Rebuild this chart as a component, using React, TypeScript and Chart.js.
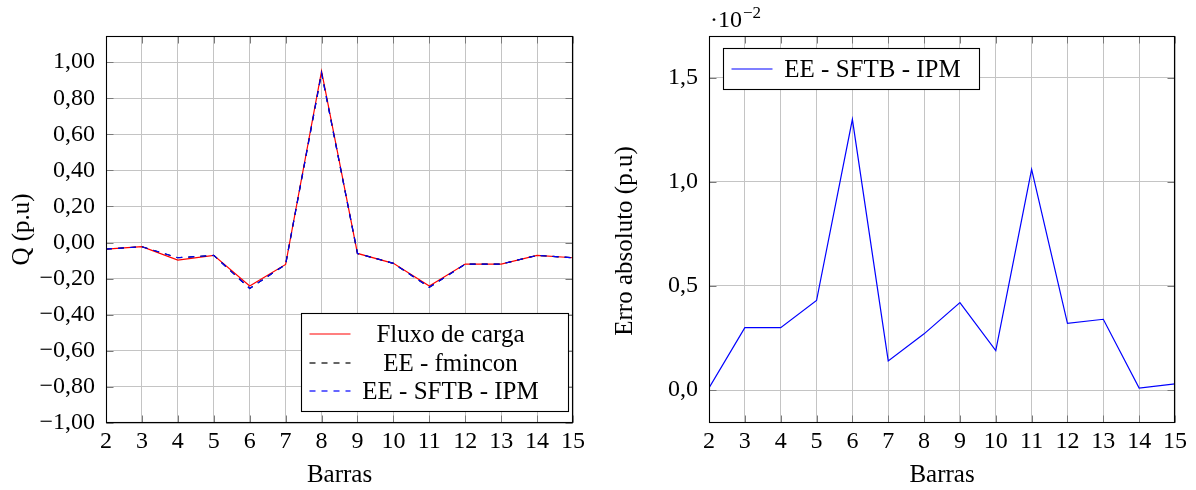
import React, { useEffect, useRef } from 'react';
import { Chart, registerables } from 'chart.js';

Chart.register(...registerables);

const FONT = "'Liberation Serif', 'DejaVu Serif', serif";

// ---------- data ----------
const barras = [2, 3, 4, 5, 6, 7, 8, 9, 10, 11, 12, 13, 14, 15];
const qFluxoCarga = [-0.036, -0.023, -0.097, -0.071, -0.241, -0.121, 0.95, -0.06, -0.115, -0.241, -0.119, -0.119, -0.071, -0.084];
const qFmincon = [-0.036, -0.023, -0.084, -0.071, -0.254, -0.121, 0.94, -0.06, -0.115, -0.248, -0.119, -0.119, -0.071, -0.084];
const qSftbIpm = [-0.036, -0.023, -0.084, -0.071, -0.254, -0.121, 0.94, -0.06, -0.115, -0.248, -0.119, -0.119, -0.071, -0.084];
// absolute error, in units of 10^-2
const erroSftbIpm = [0.01, 0.30, 0.30, 0.43, 1.30, 0.14, 0.27, 0.42, 0.19, 1.06, 0.32, 0.34, 0.01, 0.03];

const qTicks = [-1, -0.8, -0.6, -0.4, -0.2, 0, 0.2, 0.4, 0.6, 0.8, 1.0];
const erroTicks = [0, 0.5, 1.0, 1.5];
const xTicks = barras;

const leftLabels = ['Fluxo de carga', 'EE - fmincon', 'EE - SFTB - IPM'];
const rightLabels = ['EE - SFTB - IPM'];

// ---------- helpers ----------
const fmtDec = (v: number, d: number) => {
  const s = Math.abs(v) < 1e-9 ? (0).toFixed(d) : v.toFixed(d);
  return s.replace('.', ',').replace('-', '\u2212');
};

const pts = (ys: number[]) => barras.map((x, i) => ({ x, y: ys[i] }));

const DASH = [6, 6];
const LW = 1.2;

const framePlugin = {
  id: 'pgfFrame',
  afterDatasetsDraw(chart: any) {
    const { ctx, chartArea: ca, scales } = chart;
    const L = Math.round(ca.left) + 0.5;
    const R = Math.round(ca.right) - 0.5;
    const T = Math.round(ca.top) + 0.5;
    const B = Math.round(ca.bottom) - 0.5;
    ctx.save();
    ctx.strokeStyle = '#7a7a7a';
    ctx.lineWidth = 1;
    const len = 7;
    ctx.beginPath();
    scales.x.ticks.forEach((t: any) => {
      const px = Math.round(scales.x.getPixelForValue(t.value)) + 0.5;
      ctx.moveTo(px, B); ctx.lineTo(px, B - len);
      ctx.moveTo(px, T); ctx.lineTo(px, T + len);
    });
    scales.y.ticks.forEach((t: any) => {
      const py = Math.round(scales.y.getPixelForValue(t.value)) + 0.5;
      ctx.moveTo(L, py); ctx.lineTo(L + len, py);
      ctx.moveTo(R, py); ctx.lineTo(R - len, py);
    });
    ctx.stroke();
    ctx.strokeStyle = '#000';
    ctx.lineWidth = 1.1;
    ctx.strokeRect(L, T, R - L, B - T);
    ctx.restore();
  },
};

const makeLegend = (o: { anchor: 'br' | 'tl'; dx: number; dy: number; minCol: number; padR: number }) => ({
  id: 'pgfLegend',
  afterDraw(chart: any) {
    const { ctx, chartArea: ca } = chart;
    const items = chart.data.datasets;
    ctx.save();
    ctx.font = `25px ${FONT}`;
    const maxW = Math.max(o.minCol, ...items.map((d: any) => ctx.measureText(d.label).width));
    const padL = 8, sample = 41, gap = 5, rowH = 28.5, padV = 20.5;
    const w = padL + sample + gap + maxW + o.padR;
    const h = padV * 2 + (items.length - 1) * rowH;
    let x0: number, y0: number;
    if (o.anchor === 'br') {
      x0 = ca.right - o.dx - w;
      y0 = ca.bottom - o.dy - h;
    } else {
      x0 = ca.left + o.dx;
      y0 = ca.top + o.dy;
    }
    x0 = Math.round(x0) + 0.5;
    y0 = Math.round(y0) + 0.5;
    ctx.fillStyle = '#fff';
    ctx.fillRect(x0, y0, w, h);
    ctx.strokeStyle = '#000';
    ctx.lineWidth = 1.1;
    ctx.strokeRect(x0, y0, Math.round(w), Math.round(h));
    items.forEach((d: any, i: number) => {
      const y = Math.round(y0 + padV + i * rowH);
      ctx.save();
      ctx.strokeStyle = d.borderColor;
      ctx.lineWidth = d.borderWidth;
      ctx.setLineDash(d.borderDash || []);
      ctx.beginPath();
      ctx.moveTo(x0 + padL, y);
      ctx.lineTo(x0 + padL + sample, y);
      ctx.stroke();
      ctx.restore();
      ctx.fillStyle = '#000';
      ctx.textAlign = 'center';
      ctx.textBaseline = 'middle';
      ctx.fillText(d.label, x0 + padL + sample + gap + maxW / 2, y + 1);
    });
    ctx.restore();
  },
});

const exponentPlugin = {
  id: 'pgfExponent',
  afterDraw(chart: any) {
    const { ctx, chartArea: ca } = chart;
    ctx.save();
    ctx.fillStyle = '#000';
    ctx.textAlign = 'left';
    ctx.textBaseline = 'alphabetic';
    ctx.font = `24px ${FONT}`;
    const base = '\u00b710';
    const x = ca.left + 1;
    const y = 27;
    ctx.fillText(base, x, y);
    const w = ctx.measureText(base).width;
    ctx.font = `17px ${FONT}`;
    ctx.fillText('\u22122', x + w + 1, y - 9);
    ctx.restore();
  },
};

const yTitlePlugin = (text: string, cx: number, cy: number) => ({
  id: 'pgfYTitle',
  afterDraw(chart: any) {
    const { ctx } = chart;
    ctx.save();
    ctx.translate(cx, cy);
    ctx.rotate(-Math.PI / 2);
    ctx.fillStyle = '#000';
    ctx.font = `25px ${FONT}`;
    ctx.textAlign = 'center';
    ctx.textBaseline = 'middle';
    ctx.fillText(text, 0, 0);
    ctx.restore();
  },
});

const GRID = '#c4c4c4';

function baseScales(yMin: number, yMax: number, yTickVals: number[], yDec: number, yWidth: number, yTitle: string | null, yTitlePad: number) {
  return {
    x: {
      type: 'linear',
      min: barras[0],
      max: barras[barras.length - 1],
      afterBuildTicks: (s: any) => { s.ticks = xTicks.map((v) => ({ value: v })); },
      afterFit: (s: any) => { s.height = 67; },
      grid: { color: GRID, lineWidth: 1, drawTicks: false },
      border: { display: false },
      ticks: {
        autoSkip: false,
        maxRotation: 0,
        padding: 4,
        color: '#000',
        font: { family: FONT, size: 24 },
        callback: (v: any) => String(v),
      },
      title: {
        display: true,
        text: 'Barras',
        color: '#000',
        font: { family: FONT, size: 25 },
        padding: { top: 0, bottom: 0 },
      },
    },
    y: {
      type: 'linear',
      min: yMin,
      max: yMax,
      afterBuildTicks: (s: any) => { s.ticks = yTickVals.map((v) => ({ value: v })); },
      afterFit: (s: any) => { s.width = yWidth; },
      grid: { color: GRID, lineWidth: 1, drawTicks: false },
      border: { display: false },
      ticks: {
        autoSkip: false,
        padding: 11,
        color: '#000',
        font: { family: FONT, size: 24 },
        callback: (v: any) => fmtDec(Number(v), yDec),
      },
      title: {
        display: !!yTitle,
        text: yTitle || '',
        color: '#000',
        font: { family: FONT, size: 25 },
        padding: { top: yTitlePad, bottom: 0 },
      },
    },
  };
}

function LeftChart() {
  const ref = useRef<HTMLCanvasElement | null>(null);
  useEffect(() => {
    if (!ref.current) return;
    const chart = new Chart(ref.current, {
      type: 'line',
      data: {
        datasets: [
          { label: leftLabels[0], data: pts(qFluxoCarga), borderColor: '#ff0000', borderWidth: LW, pointRadius: 0, order: 3, tension: 0 },
          { label: leftLabels[1], data: pts(qFmincon), borderColor: '#000000', borderWidth: LW, borderDash: DASH, pointRadius: 0, order: 2, tension: 0 },
          { label: leftLabels[2], data: pts(qSftbIpm), borderColor: '#0000ff', borderWidth: LW, borderDash: DASH, pointRadius: 0, order: 1, tension: 0 },
        ],
      } as any,
      options: {
        animation: false,
        responsive: false,
        layout: { padding: { left: 0, top: 36, right: 25, bottom: 0 } },
        plugins: { legend: { display: false }, tooltip: { enabled: false } },
        scales: baseScales(-1, 1.145, qTicks, 2, 106, 'Q (p.u)', 7) as any,
      },
      plugins: [framePlugin, makeLegend({ anchor: 'br', dx: 5, dy: 12, minCol: 190, padR: 23 })],
    });
    return () => chart.destroy();
  }, []);
  return <canvas ref={ref} width={598} height={490} style={{ position: 'absolute', left: 0, top: 0, width: 598, height: 490 }} />;
}

function RightChart() {
  const ref = useRef<HTMLCanvasElement | null>(null);
  useEffect(() => {
    if (!ref.current) return;
    const chart = new Chart(ref.current, {
      type: 'line',
      data: {
        datasets: [
          { label: rightLabels[0], data: pts(erroSftbIpm), borderColor: '#0000ff', borderWidth: LW, pointRadius: 0, tension: 0 },
        ],
      } as any,
      options: {
        animation: false,
        responsive: false,
        layout: { padding: { left: 0, top: 36, right: 21, bottom: 0 } },
        plugins: { legend: { display: false }, tooltip: { enabled: false } },
        scales: baseScales(-0.158, 1.70, erroTicks, 1, 111, null, 0) as any,
      },
      plugins: [framePlugin, makeLegend({ anchor: 'tl', dx: 14, dy: 12, minCol: 190, padR: 12 }), exponentPlugin, yTitlePlugin('Erro absoluto (p.u)', 27.5, 241)],
    });
    return () => chart.destroy();
  }, []);
  return <canvas ref={ref} width={598} height={490} style={{ position: 'absolute', left: 598, top: 0, width: 598, height: 490 }} />;
}

export default function App() {
  return (
    <div style={{ position: 'fixed', left: 0, top: 0, width: 1196, height: 490, background: '#fff', overflow: 'hidden' }}>
      <LeftChart />
      <RightChart />
    </div>
  );
}
